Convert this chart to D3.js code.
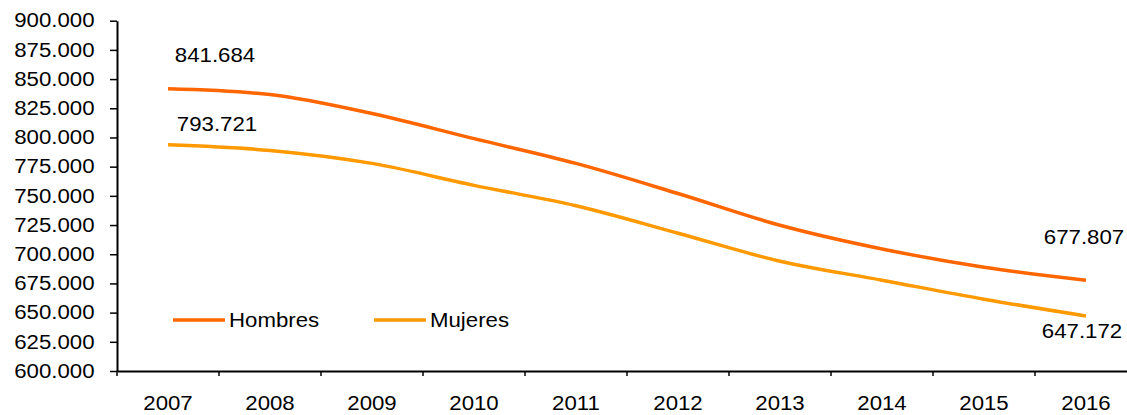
<!DOCTYPE html>
<html><head><meta charset="utf-8">
<script src="https://cdn.jsdelivr.net/npm/d3@7"></script>
<style>
html,body{margin:0;padding:0;background:#fff;}
svg{display:block;font-family:"Liberation Sans",Arial,sans-serif;}
</style></head>
<body><svg id="c" width="1127" height="415"></svg>
<script>
const years = ["2007","2008","2009","2010","2011","2012","2013","2014","2015","2016"];
const hombres = [841684, 836800, 820500, 799000, 777800, 752000, 724800, 704500, 688900, 677807];
const mujeres = [793721, 788900, 777800, 759000, 741500, 718000, 694000, 677800, 661500, 647172];
const seriesNames = ["Hombres", "Mujeres"];
const seriesColors = ["#FF6600", "#FF9900"];
const yTicks = [600000,625000,650000,675000,700000,725000,750000,775000,800000,825000,850000,875000,900000];

const fmtTick = v => (v/1000).toFixed(3);
const fmtLabel = v => (v/1000).toFixed(3);

const svg = d3.select("#c");
const SX = 1.14, FS = 19.5;
const x = d3.scaleBand().domain(years).range([117, 1137]).padding(0);
const y = d3.scaleLinear().domain([600000, 900000]).range([371, 20.7]);
const cx = d => x(d) + x.bandwidth()/2;

// y axis
const gy = svg.append("g").attr("transform", "translate(117,0)")
  .call(d3.axisLeft(y).tickValues(yTicks).tickFormat(fmtTick).tickSize(7).tickSizeOuter(0));
gy.select(".domain").attr("stroke", "#000").attr("stroke-width", 2);
gy.selectAll(".tick line").attr("stroke", "#000").attr("stroke-width", 1.5);
gy.selectAll(".tick text").attr("font-size", FS).attr("fill", "#000")
  .attr("font-family", "Liberation Sans, Arial, sans-serif")
  .attr("x", -22.5/SX).attr("transform", `scale(${SX},1)`);

// x axis
const gx = svg.append("g").attr("transform", "translate(0,371)")
  .call(d3.axisBottom(x).tickSize(0).tickSizeOuter(0));
gx.select(".domain").attr("stroke", "#000").attr("stroke-width", 2);
gx.selectAll(".tick text").attr("font-size", FS).attr("fill", "#000")
  .attr("font-family", "Liberation Sans, Arial, sans-serif")
  .attr("y", 25).attr("transform", `scale(${SX},1)`);
gx.selectAll(".tick line").remove();
gx.selectAll("line.bt").data(years).enter().append("line").attr("class","bt")
  .attr("x1", d => x(d)).attr("x2", d => x(d)).attr("y1", 0).attr("y2", 5)
  .attr("stroke", "#000").attr("stroke-width", 1.5);

// lines
const line = d3.line().x((d,i) => cx(years[i])).y(d => y(d)).curve(d3.curveMonotoneX);
[hombres, mujeres].forEach((s, k) => {
  svg.append("path").datum(s).attr("d", line).attr("fill", "none")
    .attr("stroke", seriesColors[k]).attr("stroke-width", 3.5).attr("stroke-linejoin","round");
});

// data labels
const labels = [
  {v: hombres[0], xi: 0, dx: 47, dy: -34},
  {v: mujeres[0], xi: 0, dx: 49, dy: -21},
  {v: hombres[9], xi: 9, dx: -2, dy: -43},
  {v: mujeres[9], xi: 9, dx: -4, dy: 15}
];
labels.forEach(l => {
  const px = cx(years[l.xi]) + l.dx, py = y(l.v) + l.dy;
  svg.append("text").attr("transform", `translate(${px},${py}) scale(${SX},1)`)
    .attr("text-anchor", "middle").attr("dy", "0.35em")
    .attr("font-size", FS).attr("fill", "#000").text(fmtLabel(l.v));
});

// legend
const legX = [173, 374];
seriesNames.forEach((n, k) => {
  const g = svg.append("g").attr("transform", `translate(${legX[k]},320)`);
  g.append("line").attr("x1", 0).attr("x2", 52).attr("y1", 0).attr("y2", 0)
    .attr("stroke", seriesColors[k]).attr("stroke-width", 3.5);
  g.append("text").attr("transform", `translate(56,0) scale(${SX},1)`).attr("dy", "0.35em")
    .attr("font-size", FS).attr("fill", "#000").text(n);
});
</script></body></html>
